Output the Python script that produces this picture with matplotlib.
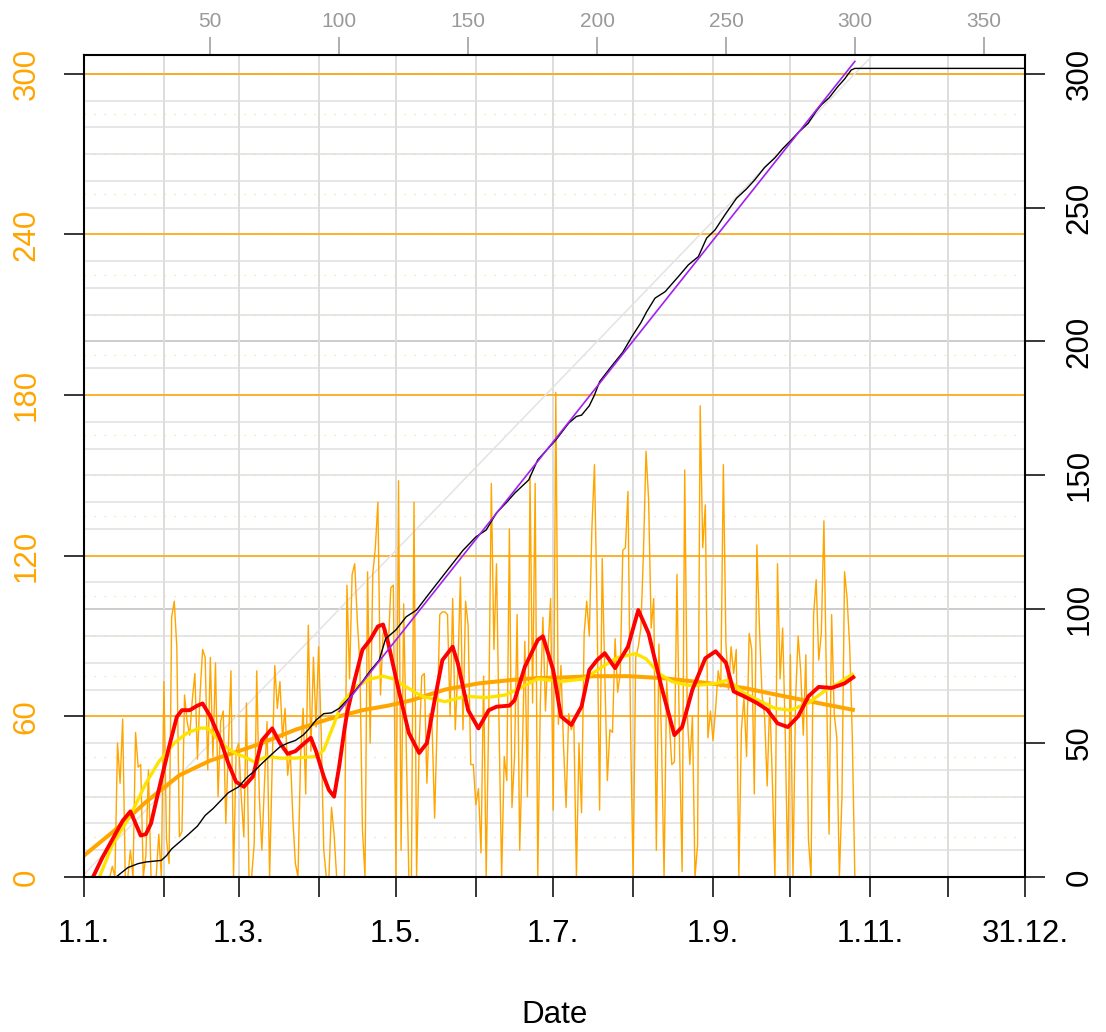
import numpy as np
import matplotlib.pyplot as plt

plt.rcParams['font.family'] = ['Liberation Sans', 'DejaVu Sans']

# daily counts for 2020 (day 1 .. day 366), rows of ten days from day 12
daily_counts = [0] * 11 + [
    4, 0, 50, 35, 59, 0, 0, 10, 0, 54,
    41, 42, 0, 8, 40, 0, 0, 0, 16, 0,
    73, 14, 5, 97, 103, 86, 15, 17, 68, 58,
    53, 66, 76, 44, 68, 85, 82, 40, 82, 45,
    80, 30, 58, 62, 20, 48, 77, 0, 47, 50,
    30, 15, 65, 0, 0, 12, 77, 30, 10, 35,
    58, 0, 42, 79, 63, 73, 52, 63, 38, 47,
    22, 5, 0, 45, 63, 31, 94, 47, 82, 56,
    86, 54, 10, 0, 0, 26, 16, 0, 0, 0,
    0, 109, 74, 113, 117, 96, 80, 18, 0, 114,
    50, 113, 123, 140, 68, 91, 93, 85, 108, 109,
    0, 148, 10, 102, 49, 0, 0, 140, 0, 49,
    75, 76, 35, 61, 57, 22, 58, 98, 99, 99,
    98, 60, 104, 55, 77, 112, 55, 103, 94, 42,
    42, 27, 33, 9, 75, 0, 61, 147, 85, 117,
    56, 0, 45, 36, 130, 26, 45, 98, 10, 46,
    88, 30, 150, 65, 147, 0, 65, 97, 62, 85,
    104, 25, 181, 57, 79, 49, 26, 61, 55, 58,
    0, 50, 24, 91, 103, 90, 130, 154, 100, 25,
    119, 76, 36, 55, 54, 89, 69, 76, 122, 123,
    144, 55, 0, 82, 86, 93, 121, 159, 141, 93,
    104, 10, 87, 51, 0, 73, 58, 42, 43, 113,
    49, 2, 152, 61, 42, 60, 0, 12, 176, 123,
    139, 52, 62, 51, 63, 77, 71, 154, 87, 70,
    86, 76, 85, 0, 55, 67, 45, 91, 85, 31,
    124, 93, 68, 60, 34, 67, 36, 0, 117, 74,
    93, 54, 0, 83, 0, 66, 90, 77, 53, 83,
    14, 0, 98, 111, 81, 91, 133, 72, 16, 98,
    61, 52, 0, 30, 114, 104, 86, 53, 0,
]
daily_counts += [0] * (366 - len(daily_counts))

# smoothed daily counts (narrow window)
red_days = [4.5, 8, 12, 16, 19, 21, 23, 25, 27, 30, 34, 37, 39, 42, 45, 47, 50, 54,
            57, 60, 63, 66.5, 70, 74, 77, 80, 83, 87, 89, 91, 94, 96, 98, 100, 102,
            103, 106, 109, 112, 115, 117, 119, 123, 127, 131, 134, 137, 140, 144,
            146, 150, 154, 158, 161, 166, 168, 172, 177, 179, 183, 186, 190, 194,
            197, 200, 203, 207, 212, 216, 220, 225, 230, 233, 237, 242, 246, 250,
            253, 257, 262, 266, 270, 274, 278, 282, 286, 291, 296, 300]
red_vals = [0, 7, 14, 21, 24.5, 20, 15.5, 16, 20, 32.5, 48.6, 59.8, 62.3, 62.3, 64,
            64.8, 60, 51, 42.4, 35.5, 33.7, 37.5, 51, 55.5, 50, 46, 47, 50.4, 52, 47,
            37.5, 32.5, 30, 41.4, 55, 61, 73.6, 84.9, 88.6, 93.6, 94.3, 87.4, 70,
            53.8, 46.3, 50, 66, 81, 86, 79.8, 62.3, 55.5, 62.3, 63.6, 64, 66, 78.5,
            88.5, 89.9, 77.3, 60, 56.8, 63.7, 77.3, 81, 83.6, 78, 86, 99.7, 91, 71,
            53, 56, 70, 81.7, 84.3, 80, 69.3, 67.5, 65, 62.5, 57.4, 56, 60, 67.5, 71,
            70.6, 72.3, 75]

# smoothed daily counts (medium window)
yellow_days = [7, 12, 19, 25, 30, 36, 41, 46, 49, 52, 56, 60, 63, 67, 72, 77, 83, 91,
               94, 97.5, 101, 106.5, 112, 117, 121, 126, 132, 141, 149, 157, 164.5,
               171, 177, 186, 195, 202, 208, 215, 219, 224, 229, 235, 239, 246, 251,
               256, 262.5, 269, 275, 282, 288, 293.5, 299.5]
yellow_vals = [0, 12, 23, 35, 43, 50, 53.8, 55.6, 55.6, 52.5, 48.6, 46, 45, 43, 45,
               44.4, 44.4, 45, 47.4, 56, 64.8, 71, 74, 75, 74, 71, 67.5, 65.5, 67.5,
               67, 68, 71, 74, 73, 74, 78.5, 82, 83.4, 81.5, 76, 73, 71.6, 71.6, 72.3,
               73.6, 69.3, 66, 63, 62.3, 65, 69.3, 72.3, 76]

# smoothed daily counts (wide window)
trend_days = [1, 13, 25, 38, 50, 61, 70, 83, 96, 109, 119, 128, 141, 154, 167, 177,
              186, 199, 212, 225, 235, 244, 257, 270, 283, 300]
trend_vals = [8, 17.5, 28, 38, 43.5, 47, 50, 55, 59, 62.3, 64, 66, 70, 72.3, 73.6,
              74.3, 74.5, 75, 75, 74.3, 73.3, 72.3, 70.6, 68, 65.5, 62.3]

# cumulative number of days (right axis)
cum_days = [13.5, 15, 18, 22, 25, 31, 33, 35, 38, 41, 45, 48, 51, 54, 57, 61, 64, 67,
            70, 74, 77, 80, 83, 86, 88, 91, 94, 97, 100, 104, 109, 112, 115.5, 118,
            122, 126, 130, 135, 141, 148, 153, 157, 161, 165, 168, 173.5, 177, 184,
            189, 192, 194, 197, 199, 201, 205, 210, 213.5, 217, 219.3, 222.5, 226.4,
            231.6, 235.4, 239.3, 242.5, 245.8, 249.6, 254.1, 258, 261.2, 265, 268.9,
            272, 275.4, 278, 281.9, 285, 287, 290, 293.4, 296, 298.6, 300, 366]
cum_vals = [0, 1.2, 3.5, 5, 5.6, 6.2, 8, 10.5, 13, 15.5, 19, 23, 25.5, 28.5, 31.5,
            33.7, 37, 39.5, 42.4, 46, 48.6, 50, 51, 53, 55, 58.6, 61, 61.3, 63, 67,
            73, 77, 81, 89, 92.3, 97.2, 99.7, 106, 113.4, 122, 127, 129.6, 136, 140,
            143.3, 148.3, 155.8, 163.2, 169.5, 172, 172.5, 176, 180, 185, 190, 196,
            201.8, 207, 211.2, 216.2, 218.6, 224.3, 228.6, 231.7, 238.6, 241.7, 247.3,
            253.5, 257, 260.4, 265, 268.5, 272, 275.3, 278, 281.5, 286, 288.4, 291,
            295.2, 298, 301.4, 302, 302]

# linear fit of the cumulative line, day 100 to 300
fit_days = [100, 300]
fit_vals = [61.8, 304.6]

month_starts = [1, 32, 61, 92, 122, 153, 183, 214, 245, 275, 306, 336, 366]
month_labels = ['1.1.', '', '1.3.', '', '1.5.', '', '1.7.', '', '1.9.', '',
                '1.11.', '', '31.12.']

days = np.arange(1, len(daily_counts) + 1)

fig = plt.figure(figsize=(11.06, 10.32), dpi=100)
ax = fig.add_axes([84 / 1106, 155 / 1032, 941 / 1106, 822 / 1032])
ax.set_xlim(1, 366)
ax.set_ylim(0, 307)

# background grid
for v in range(10, 301, 10):
    ax.axhline(v, color='#CCCCCC' if v % 100 == 0 else '#E6E6E6', lw=1.4, zorder=1)
for d in month_starts[1:-1]:
    ax.axvline(d, color='#DDDDDD', lw=1.4, zorder=1)
for v in range(15, 301, 15):
    ax.axhline(v, color='#FFD9A0', lw=0.9, dashes=(1, 7), zorder=1.2)
for v in range(0, 301, 60):
    ax.axhline(v, color='orange', lw=1.1, zorder=1.5)

ax.axline((0, 0), slope=1, color='#E3E3E3', lw=1.1, zorder=2)

ax.plot(days, daily_counts, color='orange', lw=1.0, zorder=3, clip_on=False)
smooth = dict(solid_capstyle='butt', solid_joinstyle='round')
ax.plot(trend_days, trend_vals, color='orange', lw=2.9, zorder=4, **smooth)
ax.plot(yellow_days, yellow_vals, color='#FFE300', lw=2.4, zorder=5, **smooth)
ax.plot(red_days, red_vals, color='red', lw=2.8, zorder=6, **smooth)
ax.plot(cum_days, cum_vals, color='black', lw=1.0, zorder=7)
ax.plot(fit_days, fit_vals, color='#A020F0', lw=1.2, zorder=8)

for s in ax.spines.values():
    s.set_linewidth(1.5)
    s.set_zorder(9)

# bottom: dates
ax.set_xticks(month_starts)
ax.set_xticklabels(month_labels)
ax.tick_params(axis='x', direction='out', length=14.4, width=1.1, labelsize=22.5,
               pad=16)

# left: orange labels
ax.set_yticks(range(0, 301, 60))
ax.set_yticklabels([str(v) for v in range(0, 301, 60)], rotation=90, va='center',
                   color='orange')
ax.tick_params(axis='y', direction='out', length=14.4, width=1.1, labelsize=22.5,
               pad=16)

# right: cumulative scale
right = ax.secondary_yaxis('right')
right.set_yticks(range(0, 301, 50))
right.set_yticklabels([str(v) for v in range(0, 301, 50)], rotation=90, va='center')
right.tick_params(direction='out', length=14.4, width=1.1, labelsize=22.5, pad=14)
right.spines['right'].set_visible(False)

# top: day of year
top = ax.secondary_xaxis('top')
top.set_xticks(range(50, 351, 50))
top.tick_params(direction='out', length=13, width=1.1, labelsize=15, pad=4,
                colors='#999999')
top.spines['top'].set_visible(False)

fig.text(554.5 / 1106, 1 - 1015 / 1032, 'Date', ha='center', va='center',
         fontsize=22.5)

plt.savefig('out.png', dpi=100)
